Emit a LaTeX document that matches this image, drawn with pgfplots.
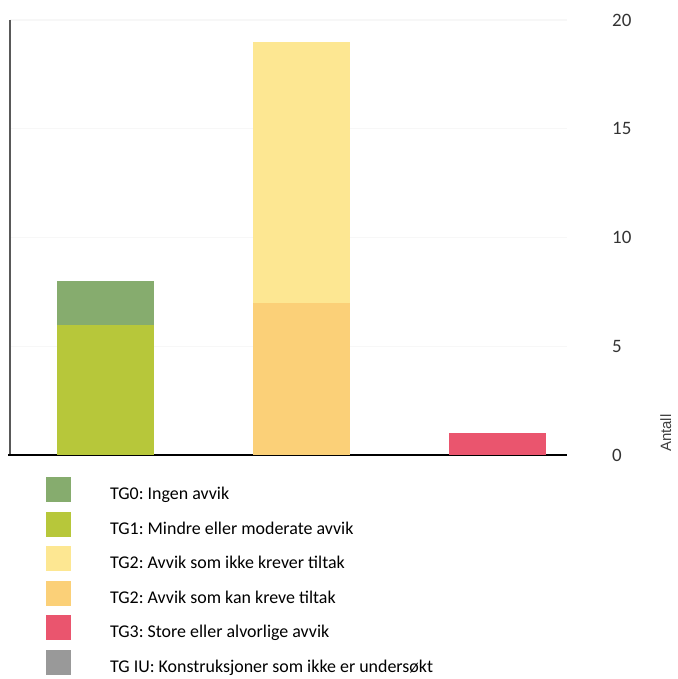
\documentclass[border=0pt]{standalone}
\usepackage{fontspec}
\setmainfont{Carlito}
\newfontfamily\antallfont{Liberation Sans}
\usepackage{pgfplots}
\pgfplotsset{compat=1.18}
\frenchspacing
\definecolor{tgzero}{HTML}{86AC6E}
\definecolor{tgone}{HTML}{B7C73A}
\definecolor{tgtwolight}{HTML}{FDE792}
\definecolor{tgtwoorange}{HTML}{FBD078}
\definecolor{tgthree}{HTML}{EA556E}
\definecolor{tgiu}{HTML}{999999}
\begin{document}
\begin{tikzpicture}
\useasboundingbox (-10bp,-224bp) rectangle (668bp,455bp);
\begin{axis}[
  at={(0,0)}, anchor=south west,
  scale only axis, width=557bp, height=435bp,
  ymin=0, ymax=20, xmin=-0.485, xmax=2.357,
  clip=false,
  ybar stacked, bar width=97bp,
  axis line style={draw=none},
  xtick=\empty,
  ytick={0,5,10,15,20},
  ytick pos=right, yticklabel pos=right,
  major tick style={draw=none},
  ymajorgrids, grid style={black!3, line width=1.5bp},
  /pgf/number format/assume math mode=true,
  yticklabel style={font=\fontsize{19}{22}\selectfont, text=black!80, anchor=west, inner sep=0pt, xshift=45bp},
  legend image code/.code={\fill[#1] (0bp,-8bp) rectangle (25bp,17bp);},
  legend style={at={(rel axis cs:0.0646,-0.0506)}, anchor=north west,
    draw=none, fill=none, inner sep=0pt,
    font=\fontsize{18}{21}\selectfont,
    row sep=9.5bp, column sep=39bp,
    nodes={inner sep=0pt}},
  legend cell align=left,
]
\addlegendimage{fill=tgzero, draw=none}
\addlegendentry{TG0: Ingen avvik}
\addlegendimage{fill=tgone, draw=none}
\addlegendentry{TG1: Mindre eller moderate avvik}
\addlegendimage{fill=tgtwolight, draw=none}
\addlegendentry{TG2: Avvik som ikke krever tiltak}
\addlegendimage{fill=tgtwoorange, draw=none}
\addlegendentry{TG2: Avvik som kan kreve tiltak}
\addlegendimage{fill=tgthree, draw=none}
\addlegendentry{TG3: Store eller alvorlige avvik}
\addlegendimage{fill=tgiu, draw=none}
\addlegendentry{TG IU: Konstruksjoner som ikke er undersøkt}

\addplot[fill=tgone, draw=none] coordinates {(0,6) (1,0) (2,0)};
\addplot[fill=tgzero, draw=none] coordinates {(0,2) (1,0) (2,0)};
\addplot[fill=tgtwoorange, draw=none] coordinates {(0,0) (1,7) (2,0)};
\addplot[fill=tgtwolight, draw=none] coordinates {(0,0) (1,12) (2,0)};
\addplot[fill=tgthree, draw=none] coordinates {(0,0) (1,0) (2,1)};

\draw[line width=2bp, black] (rel axis cs:-0.004,0) -- (rel axis cs:1,0);
\draw[line width=1.5bp, black!65] (rel axis cs:0,0) -- (rel axis cs:0,1);
\node[rotate=90, anchor=north west, inner sep=0pt, font=\antallfont\fontsize{15}{18}\selectfont, text=black!75] at (rel axis cs:1.167,0.007) {Antall};
\end{axis}
\end{tikzpicture}
\end{document}
